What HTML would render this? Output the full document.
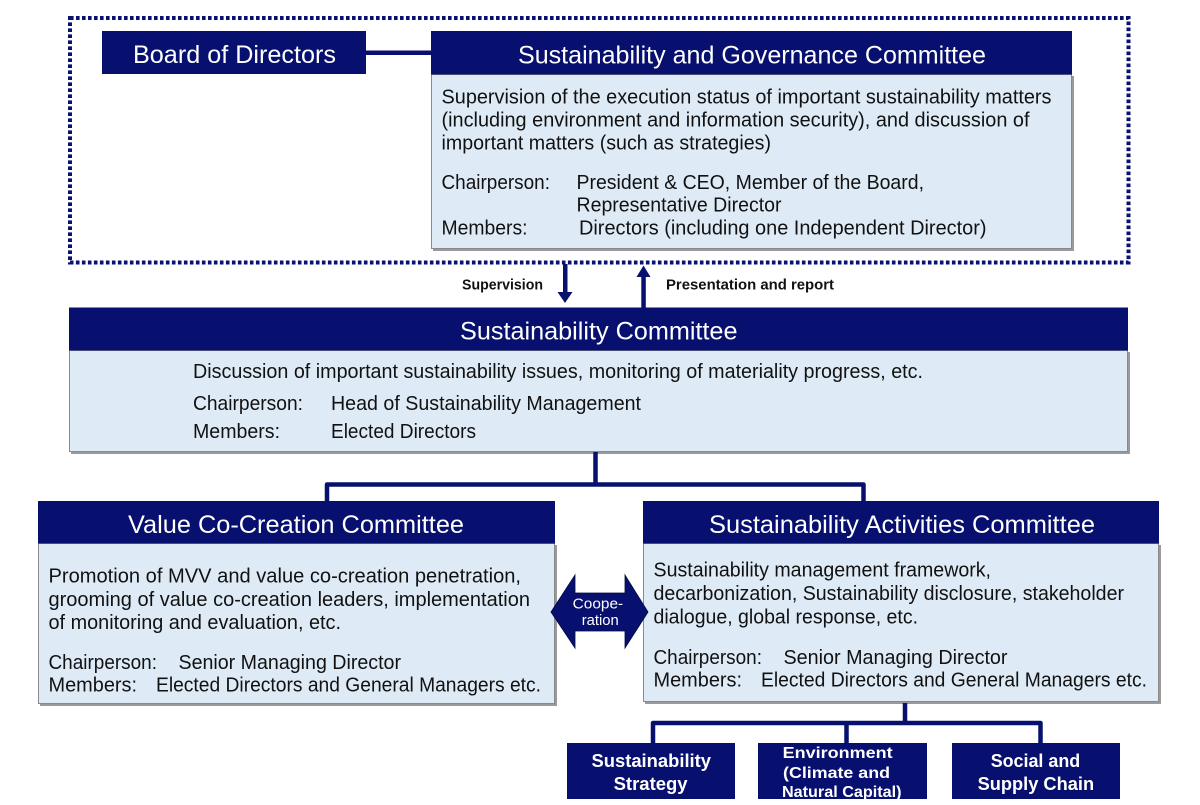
<!DOCTYPE html>
<html>
<head>
<meta charset="utf-8">
<style>
  html,body{margin:0;padding:0;background:#fff;}
  svg{display:block;}
  text{font-family:"Liberation Sans",Arial,sans-serif;}
  .h{fill:#fff;font-size:25px;}
  .b{fill:#111;font-size:20px;}
  .lbl{fill:#111;font-size:14.5px;font-weight:bold;}
  .sb{fill:#fff;font-size:18px;font-weight:bold;}
  .sb2{fill:#fff;font-size:15.5px;font-weight:bold;}
</style>
</head>
<body>
<svg width="1200" height="805" viewBox="0 0 1200 805" xmlns="http://www.w3.org/2000/svg">
  <defs>
    <clipPath id="envclip"><rect x="758" y="743" width="169" height="56"/></clipPath>
  </defs>
  <rect x="0" y="0" width="1200" height="805" fill="#fff"/>

  <!-- dotted boundary -->
  <rect x="70" y="18" width="1058.5" height="244.5" fill="none" stroke="#0a1170" stroke-width="4" stroke-dasharray="3.6 2.4"/>

  <!-- Board of Directors -->
  <rect x="102" y="31" width="264" height="43" fill="#07106e"/>
  <text class="h" x="133" y="63" textLength="203" lengthAdjust="spacingAndGlyphs">Board of Directors</text>

  <!-- connector -->
  <rect x="366" y="50.5" width="66" height="4.5" fill="#07106e"/>

  <!-- SGC -->
  <rect x="433" y="76" width="641" height="175" fill="#9a9a9a"/>
  <rect x="431.5" y="74.5" width="640" height="174" fill="#deebf7" stroke="#8a8a8a" stroke-width="1"/>
  <rect x="431" y="31" width="641" height="43.5" fill="#07106e"/>
  <text class="h" x="518" y="63.3" textLength="468" lengthAdjust="spacingAndGlyphs">Sustainability and Governance Committee</text>
  <text class="b" x="441.5" y="103.5" textLength="610" lengthAdjust="spacingAndGlyphs">Supervision of the execution status of important sustainability matters</text>
  <text class="b" x="441.5" y="126.5" textLength="588" lengthAdjust="spacingAndGlyphs">(including environment and information security), and discussion of</text>
  <text class="b" x="441.5" y="149.5" textLength="329.5" lengthAdjust="spacingAndGlyphs">important matters (such as strategies)</text>
  <text class="b" x="441.5" y="189" textLength="108.5" lengthAdjust="spacingAndGlyphs">Chairperson:</text>
  <text class="b" x="576.5" y="189" textLength="347.5" lengthAdjust="spacingAndGlyphs">President &amp; CEO, Member of the Board,</text>
  <text class="b" x="576.5" y="211.7" textLength="205" lengthAdjust="spacingAndGlyphs">Representative Director</text>
  <text class="b" x="441.5" y="234.3" textLength="86" lengthAdjust="spacingAndGlyphs">Members:</text>
  <text class="b" x="579" y="234.3" textLength="407.5" lengthAdjust="spacingAndGlyphs">Directors (including one Independent Director)</text>

  <!-- Supervision arrow -->
  <rect x="563" y="264" width="4.5" height="29" fill="#07106e"/>
  <polygon points="557.5,292 572.5,292 565,303" fill="#07106e"/>
  <text class="lbl" x="462" y="289.5" textLength="81" lengthAdjust="spacingAndGlyphs">Supervision</text>

  <!-- Presentation arrow -->
  <rect x="641.3" y="276" width="4.5" height="32" fill="#07106e"/>
  <polygon points="636.5,277 650.5,277 643.5,265.5" fill="#07106e"/>
  <text class="lbl" x="666" y="289.5" textLength="168" lengthAdjust="spacingAndGlyphs">Presentation and report</text>

  <!-- Sustainability Committee -->
  <rect x="71" y="352" width="1059" height="102" fill="#9a9a9a"/>
  <rect x="69.5" y="350.5" width="1058" height="101" fill="#deebf7" stroke="#8a8a8a" stroke-width="1"/>
  <rect x="69" y="307.5" width="1059" height="43" fill="#07106e"/>
  <text class="h" x="460" y="339.5" textLength="277.5" lengthAdjust="spacingAndGlyphs">Sustainability Committee</text>
  <text class="b" x="193" y="378" textLength="730" lengthAdjust="spacingAndGlyphs">Discussion of important sustainability issues, monitoring of materiality progress, etc.</text>
  <text class="b" x="193" y="410" textLength="110" lengthAdjust="spacingAndGlyphs">Chairperson:</text>
  <text class="b" x="331" y="410" textLength="310" lengthAdjust="spacingAndGlyphs">Head of Sustainability Management</text>
  <text class="b" x="193" y="438" textLength="87" lengthAdjust="spacingAndGlyphs">Members:</text>
  <text class="b" x="331" y="438" textLength="145" lengthAdjust="spacingAndGlyphs">Elected Directors</text>

  <!-- tree connector -->
  <path d="M595.5,452 V484.5 M327,501 V484.5 H863.5 V501" fill="none" stroke="#07106e" stroke-width="4.5" stroke-linejoin="round"/>

  <!-- Value Co-Creation Committee -->
  <rect x="40" y="545" width="517" height="161" fill="#9a9a9a"/>
  <rect x="38.5" y="543.5" width="516" height="160" fill="#deebf7" stroke="#8a8a8a" stroke-width="1"/>
  <rect x="38" y="501" width="517" height="42.5" fill="#07106e"/>
  <text class="h" x="128" y="533" textLength="336" lengthAdjust="spacingAndGlyphs">Value Co-Creation Committee</text>
  <text class="b" x="48.5" y="582.7" textLength="472.5" lengthAdjust="spacingAndGlyphs">Promotion of MVV and value co-creation penetration,</text>
  <text class="b" x="48.5" y="606" textLength="481.5" lengthAdjust="spacingAndGlyphs">grooming of value co-creation leaders, implementation</text>
  <text class="b" x="48.5" y="629" textLength="292.5" lengthAdjust="spacingAndGlyphs">of monitoring and evaluation, etc.</text>
  <text class="b" x="48.5" y="669" textLength="108.5" lengthAdjust="spacingAndGlyphs">Chairperson:</text>
  <text class="b" x="178.5" y="669" textLength="222.5" lengthAdjust="spacingAndGlyphs">Senior Managing Director</text>
  <text class="b" x="48.5" y="691.7" textLength="88.5" lengthAdjust="spacingAndGlyphs">Members:</text>
  <text class="b" x="156" y="691.7" textLength="385" lengthAdjust="spacingAndGlyphs">Elected Directors and General Managers etc.</text>

  <!-- Sustainability Activities Committee -->
  <rect x="645" y="545" width="516" height="159" fill="#9a9a9a"/>
  <rect x="643.5" y="543.5" width="515" height="158" fill="#deebf7" stroke="#8a8a8a" stroke-width="1"/>
  <rect x="643" y="501" width="516" height="42.5" fill="#07106e"/>
  <text class="h" x="709" y="533" textLength="386" lengthAdjust="spacingAndGlyphs">Sustainability Activities Committee</text>
  <text class="b" x="653.5" y="576.7" textLength="337.5" lengthAdjust="spacingAndGlyphs">Sustainability management framework,</text>
  <text class="b" x="653.5" y="600" textLength="470.5" lengthAdjust="spacingAndGlyphs">decarbonization, Sustainability disclosure, stakeholder</text>
  <text class="b" x="653.5" y="623.3" textLength="264.5" lengthAdjust="spacingAndGlyphs">dialogue, global response, etc.</text>
  <text class="b" x="653.5" y="664" textLength="108.5" lengthAdjust="spacingAndGlyphs">Chairperson:</text>
  <text class="b" x="783.5" y="664" textLength="224" lengthAdjust="spacingAndGlyphs">Senior Managing Director</text>
  <text class="b" x="653.5" y="686.7" textLength="88.5" lengthAdjust="spacingAndGlyphs">Members:</text>
  <text class="b" x="761" y="686.7" textLength="386" lengthAdjust="spacingAndGlyphs">Elected Directors and General Managers etc.</text>

  <!-- Cooperation double arrow -->
  <polygon points="551,612 575,575 575,593 625,593 625,575 648,612 625,648 625,631 575,631 575,648" fill="#07106e" stroke="#000a40" stroke-width="0.8"/>
  <text x="572.7" y="608.3" fill="#fff" font-size="15" textLength="50.5" lengthAdjust="spacingAndGlyphs">Coope-</text>
  <text x="581.7" y="625" fill="#fff" font-size="15" textLength="37" lengthAdjust="spacingAndGlyphs">ration</text>

  <!-- bottom tree -->
  <path d="M905,703 V723 M653,743 V723 H1040.5 V743 M846.5,723 V743" fill="none" stroke="#07106e" stroke-width="4.5" stroke-linejoin="round"/>

  <!-- sub boxes -->
  <rect x="567" y="743" width="168" height="56" fill="#07106e"/>
  <text class="sb" x="591.5" y="767" textLength="119.5" lengthAdjust="spacingAndGlyphs">Sustainability</text>
  <text class="sb" x="613.6" y="790" textLength="74" lengthAdjust="spacingAndGlyphs">Strategy</text>

  <rect x="758" y="743" width="169" height="56" fill="#07106e"/>
  <g clip-path="url(#envclip)">
    <text class="sb2" x="782.6" y="758" textLength="110" lengthAdjust="spacingAndGlyphs">Environment</text>
    <text class="sb2" x="783" y="778" textLength="107" lengthAdjust="spacingAndGlyphs">(Climate and</text>
    <text class="sb2" x="782" y="797" textLength="119.5" lengthAdjust="spacingAndGlyphs">Natural Capital)</text>
  </g>

  <rect x="952" y="743" width="168" height="56" fill="#07106e"/>
  <text class="sb" x="990.7" y="767" textLength="89.5" lengthAdjust="spacingAndGlyphs">Social and</text>
  <text class="sb" x="977.6" y="790" textLength="116.5" lengthAdjust="spacingAndGlyphs">Supply Chain</text>
</svg>
</body>
</html>
